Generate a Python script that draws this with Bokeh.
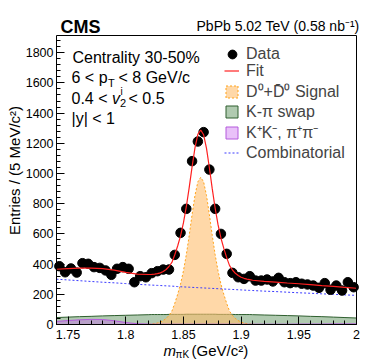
import numpy as np
from bokeh.plotting import figure
from bokeh.models import Label, Legend, LegendItem, FixedTicker, Range1d, NumeralTickFormatter, BoxAnnotation
from bokeh.embed import file_html
from bokeh.resources import INLINE

# ---------------- data ----------------
m_bins = [1.7425, 1.7475, 1.7525, 1.7575, 1.7625, 1.7675, 1.7725, 1.7775, 1.7825, 1.7875,
          1.7925, 1.7975, 1.8025, 1.8075, 1.8125, 1.8175, 1.8225, 1.8275, 1.8325, 1.8375,
          1.8425, 1.8475, 1.8525, 1.8575, 1.8625, 1.8675, 1.8725, 1.8775, 1.8825, 1.8875,
          1.8925, 1.8975, 1.9025, 1.9075, 1.9125, 1.9175, 1.9225, 1.9275, 1.9325, 1.9375,
          1.9425, 1.9475, 1.9525, 1.9575, 1.9625, 1.9675, 1.9725, 1.9775, 1.9825, 1.9875,
          1.9925, 1.9975]
counts = [386, 346, 371, 344, 406, 402, 380, 375, 358, 329,
          369, 380, 369, 280, 320, 313, 340, 353, 364, 364,
          461, 607, 766, 1082, 1212, 1274, 1026, 766, 600, 468,
          342, 313, 302, 320, 291, 291, 298, 285, 309, 280,
          274, 280, 270, 265, 258, 243, 274, 230, 258, 225,
          280, 247]

m_grid = [1.74, 1.75, 1.76, 1.77, 1.78, 1.79, 1.80, 1.81, 1.82,
          1.8225, 1.825, 1.8275, 1.83, 1.8325, 1.835, 1.8375, 1.84, 1.8425, 1.845,
          1.8475, 1.85, 1.8525, 1.855, 1.8575, 1.86, 1.8625, 1.865, 1.8675, 1.87,
          1.8725, 1.875, 1.8775, 1.88, 1.8825, 1.885, 1.8875, 1.89, 1.8925, 1.895,
          1.8975, 1.90, 1.9025, 1.905, 1.9075,
          1.91, 1.92, 1.93, 1.94, 1.95, 1.96, 1.97, 1.98, 1.99, 2.00]

signal = [0, 0, 0, 0, 0, 0, 0, 0, 1,
          3, 6, 10, 16, 26, 40, 60, 88, 140, 200,
          268, 355, 462, 589, 728, 855, 945, 975, 945, 855,
          728, 589, 462, 355, 268, 200, 140, 88, 60, 40,
          26, 16, 10, 6, 3,
          1, 0, 0, 0, 0, 0, 0, 0, 0, 0]

swap = [46, 49, 52, 54, 57, 59, 61, 63, 65,
        66, 66, 66, 66, 66, 66, 67, 67, 67, 67,
        67, 67, 68, 68, 68, 68, 68, 68, 68, 68,
        68, 68, 68, 67, 67, 67, 67, 67, 67, 66,
        66, 66, 66, 66, 66,
        65, 63, 61, 59, 57, 54, 52, 49, 46, 43]

kk_pipi = [20, 26, 31, 34, 33, 25, 13, 5, 3,
           2, 2, 2, 2, 2, 2, 2, 2, 2, 2,
           2, 2, 2, 2, 2, 2, 2, 2, 2, 2,
           2, 2, 2, 2, 2, 2, 2, 2, 2, 2,
           2, 2, 2, 2, 2,
           2, 2, 2, 2, 3, 3, 3, 4, 4, 4]

combinatorial = [300, 295, 290, 285, 280, 276, 271, 266, 262,
                 261, 260, 259, 258, 257, 256, 255, 254, 253, 251,
                 250, 249, 248, 247, 246, 245, 244, 243, 242, 241,
                 240, 239, 238, 237, 236, 235, 234, 233, 232, 231,
                 230, 229, 228, 227, 226,
                 225, 221, 218, 214, 210, 207, 203, 200, 196, 193]

fit_total = (np.array(signal) + np.array(swap) + np.array(kk_pipi) + np.array(combinatorial)).tolist()

x_major = [1.75, 1.80, 1.85, 1.90, 1.95, 2.00]
x_minor = np.round(np.arange(1.74, 2.0001, 0.01), 2).tolist()
y_major = [0, 200, 400, 600, 800, 1000, 1200, 1400, 1600, 1800]
y_minor = list(range(0, 1900, 40))

X_LO, X_HI = 1.74, 2.0
Y_LO, Y_HI = 0, 1914

# ---------------- layout geometry (pixels) ----------------
W, H = 374, 361
FL, FR, FT, FB = 56, 356, 35, 324      # ROOT-style frame box inside the canvas
sx = (X_HI - X_LO) / (FR - FL)
sy = (Y_HI - Y_LO) / (FB - FT)
x_start, x_end = X_LO - FL * sx, X_HI + (W - FR) * sx
y_start, y_end = Y_LO - (H - FB) * sy, Y_HI + FT * sy

FONT = "Liberation Sans"

p = figure(width=W, height=H, x_range=Range1d(x_start, x_end), y_range=Range1d(y_start, y_end),
           output_backend="svg", toolbar_location=None,
           min_border_left=0, min_border_right=0, min_border_top=0, min_border_bottom=0)
p.xgrid.visible = False
p.ygrid.visible = False
p.outline_line_color = None
p.background_fill_color = "white"
p.border_fill_color = "white"

# areas (not stacked)
xs_poly = m_grid + m_grid[::-1]
zeros = [0] * len(m_grid)
swap_r = p.patch(xs_poly, swap + zeros, fill_color="#4f8a4f", fill_alpha=0.45,
                 line_color="#2f5f2f", line_width=1)
sig_r = p.patch(xs_poly, signal + zeros, fill_color="#ffbe6e", fill_alpha=0.6,
                line_color="#ffa31a", line_width=1, line_dash="2 2")
kk_r = p.patch(xs_poly, kk_pipi + zeros, fill_color="#c864f0", fill_alpha=0.4,
               line_color="#b45adc", line_width=1)
comb_r = p.line(m_grid, combinatorial, line_color="#3a3aff", line_width=1, line_dash="2 2")

data_r = p.scatter(m_bins, counts, size=9.5, color="black")
fit_r = p.line(m_grid, fit_total, line_color="#ff2020", line_width=1.2)

# frame box
p.add_layout(BoxAnnotation(left=X_LO, right=X_HI, bottom=Y_LO, top=Y_HI,
                           fill_color=None, fill_alpha=0, line_color="black",
                           line_alpha=1, line_width=1))

# axes, pinned to the frame box
p.xaxis.fixed_location = Y_LO
p.yaxis.fixed_location = X_LO
for ax in (p.xaxis[0], p.yaxis[0]):
    ax.major_tick_in = 8
    ax.major_tick_out = 0
    ax.minor_tick_in = 4
    ax.minor_tick_out = 0
    ax.axis_line_color = None
    ax.major_tick_line_color = "black"
    ax.minor_tick_line_color = "black"
    ax.major_label_text_font = FONT
    ax.major_label_text_font_size = "12.5px"
    ax.major_label_text_color = "black"
p.xaxis.ticker = FixedTicker(ticks=x_major, minor_ticks=x_minor)
p.yaxis.ticker = FixedTicker(ticks=y_major, minor_ticks=y_minor)
p.xaxis.formatter = NumeralTickFormatter(format="0.[00]")
p.yaxis.formatter = NumeralTickFormatter(format="0")
p.xaxis.major_label_standoff = 5
p.yaxis.major_label_standoff = 3

# legends (location measured from the bottom-left of the canvas)
leg1 = Legend(items=[LegendItem(label="Data", renderers=[data_r])],
              location=(221, 296), glyph_width=22, glyph_height=22, label_height=19,
              label_standoff=3, padding=0, margin=0, spacing=0,
              border_line_color=None, background_fill_alpha=0,
              label_text_font=FONT, label_text_font_size="16px")
leg2 = Legend(items=[LegendItem(label="Fit", renderers=[fit_r]),
                     LegendItem(label="D\u2070+D\u0304\u2070 Signal", renderers=[sig_r]),
                     LegendItem(label="K-\u03c0 swap", renderers=[swap_r]),
                     LegendItem(label="K\u207aK\u207b, \u03c0\u207a\u03c0\u207b", renderers=[kk_r]),
                     LegendItem(label="Combinatorial", renderers=[comb_r])],
              location=(224, 199), glyph_width=15, glyph_height=15, label_height=19,
              label_standoff=7, padding=0, margin=0, spacing=-3,
              border_line_color=None, background_fill_alpha=0,
              label_text_font=FONT, label_text_font_size="16px")
p.add_layout(leg1)
p.add_layout(leg2)


def lab(text, wx, wy, size="16px", style="normal", align="left", angle=0.0):
    """Place a text at window pixel (wx, wy) measured from the top-left."""
    p.add_layout(Label(x=wx, y=H - wy, x_units="screen", y_units="screen", text=text,
                       text_font=FONT, text_font_size=size, text_font_style=style,
                       text_align=align, text_baseline="middle", angle=angle,
                       text_color="black"))


# header
lab("CMS", 60, 26, size="18px", style="bold")
lab("PbPb 5.02 TeV (0.58 nb\u207b\u00b9)", 359, 25, size="14px", align="right")

# left text block
lab("Centrality 30-50%", 72, 57)
lab("6 < p", 71, 77)
lab("T", 107.5, 82, size="11px")
lab(" < 8 GeV/c", 118, 77)
lab("0.4 < ", 71, 97.5)
lab("v", 111.5, 97.5, style="italic")
lab("i", 120, 91, size="10px")
lab("2", 119.5, 102.5, size="11px")
lab(" < 0.5", 128, 97.5)
lab("|y| < 1", 71, 118)

# axis titles
lab("Entries / (5 MeV/c\u00b2)", 14, 170, size="15px", align="center", angle=np.pi / 2)
lab("m", 163, 350, size="15px", style="italic")
lab("\u03c0K", 175, 354, size="10px")
lab("(GeV/c\u00b2)", 191, 350, size="15px")

open("out.html", "w").write(file_html(p, INLINE))
